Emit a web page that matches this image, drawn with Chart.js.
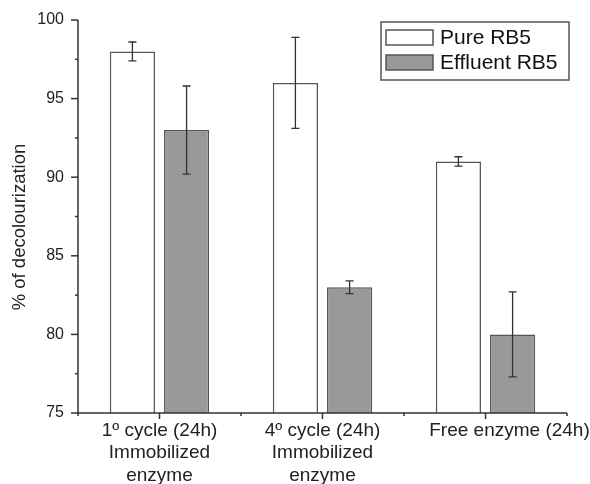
<!DOCTYPE html>
<html>
<head>
<meta charset="utf-8">
<script src="https://cdn.jsdelivr.net/npm/chart.js@4/dist/chart.umd.min.js"></script>
<style>
  html, body { margin: 0; padding: 0; background: #fff; }
  #wrap { width: 590px; height: 484px; }
</style>
</head>
<body>
<div id="wrap"><canvas id="grafico" width="590" height="484"></canvas></div>
<script>
// Datos
const categorias = [
    ["1º cycle (24h)", "Immobilized", "enzyme"],
    ["4º cycle (24h)", "Immobilized", "enzyme"],
    ["Free enzyme (24h)"]
];
const purePos = [1, 2, 3];
const pureRB5 = [98, 96, 91];
const pureErr = [0.6, 2.9, 0.3];
const effluentRB5 = [93, 83, 80];
const effluentErr = [2.8, 0.4, 2.7];
const yTicks = [75, 80, 85, 90, 95, 100];

const fuente = "'Liberation Sans', Arial, sans-serif";

// Ejes dibujados a mano (ticks mayores y menores)
const ejesPlugin = {
    id: 'ejes',
    afterDraw(chart) {
        const ctx = chart.ctx;
        const x = chart.scales.x, y = chart.scales.y;
        const area = chart.chartArea;
        ctx.save();
        ctx.strokeStyle = '#333';
        ctx.lineWidth = 1.5;
        ctx.beginPath();
        ctx.moveTo(area.left, area.top);
        ctx.lineTo(area.left, area.bottom);
        ctx.lineTo(area.right, area.bottom);
        ctx.stroke();

        // ticks del eje y
        ctx.fillStyle = '#222';
        ctx.font = '16px ' + fuente;
        ctx.textAlign = 'right';
        ctx.textBaseline = 'middle';
        for (let v = y.min; v <= y.max + 0.01; v += 2.5) {
            const py = y.getPixelForValue(v);
            const mayor = yTicks.includes(v);
            ctx.beginPath();
            ctx.moveTo(area.left - (mayor ? 7 : 3), py);
            ctx.lineTo(area.left, py);
            ctx.stroke();
            if (mayor) ctx.fillText(String(v), area.left - 14, py);
        }

        // ticks del eje x
        ctx.font = '19px ' + fuente;
        ctx.textAlign = 'center';
        ctx.textBaseline = 'top';
        for (let v = x.min; v <= x.max + 0.01; v += 0.5) {
            const px = x.getPixelForValue(v);
            const mayor = Number.isInteger(v);
            ctx.beginPath();
            ctx.moveTo(px, area.bottom);
            ctx.lineTo(px, area.bottom + (mayor ? 6 : 3));
            ctx.stroke();
            if (mayor && categorias[v - 1]) {
                // la etiqueta de una sola línea va algo desplazada a la derecha
                const dx = categorias[v - 1].length === 1 ? 24 : 0;
                categorias[v - 1].forEach((linea, i) => {
                    ctx.fillText(linea, px + dx, area.bottom + 8 + i * 22.5);
                });
            }
        }

        // título del eje y
        ctx.save();
        ctx.translate(20, 227);
        ctx.rotate(-Math.PI / 2);
        ctx.textBaseline = 'middle';
        ctx.font = '18.5px ' + fuente;
        ctx.fillText('% of decolourization', 0, 0);
        ctx.restore();

        // leyenda
        ctx.fillStyle = '#fff';
        ctx.fillRect(381, 22, 188, 58);
        ctx.strokeStyle = '#555';
        ctx.lineWidth = 1.5;
        ctx.strokeRect(381, 22, 188, 58);
        const items = [['Pure RB5', '#ffffff'], ['Effluent RB5', '#999999']];
        items.forEach((it, i) => {
            const ty = 30 + i * 25;
            ctx.fillStyle = it[1];
            ctx.fillRect(386, ty, 47, 15);
            ctx.strokeRect(386, ty, 47, 15);
            ctx.fillStyle = '#111';
            ctx.font = '21px ' + fuente;
            ctx.textAlign = 'left';
            ctx.textBaseline = 'middle';
            ctx.fillText(it[0], 440, ty + 8);
        });
        ctx.restore();
    }
};

// Barras de error
const erroresPlugin = {
    id: 'errores',
    afterDatasetsDraw(chart) {
        const ctx = chart.ctx;
        const y = chart.scales.y;
        const errores = [pureErr, effluentErr];
        ctx.save();
        ctx.strokeStyle = '#333';
        ctx.lineWidth = 1.3;
        chart.data.datasets.forEach((ds, d) => {
            const meta = chart.getDatasetMeta(d);
            meta.data.forEach((bar, i) => {
                const val = ds.data[i].y;
                const e = errores[d][i];
                const top = y.getPixelForValue(val + e);
                const bot = y.getPixelForValue(val - e);
                ctx.beginPath();
                ctx.moveTo(bar.x, top);
                ctx.lineTo(bar.x, bot);
                ctx.moveTo(bar.x - 4, top);
                ctx.lineTo(bar.x + 4, top);
                ctx.moveTo(bar.x - 4, bot);
                ctx.lineTo(bar.x + 4, bot);
                ctx.stroke();
            });
        });
        ctx.restore();
    }
};

const ctx = document.getElementById('grafico').getContext('2d');
new Chart(ctx, {
    type: 'bar',
    data: {
        datasets: [
            {
                label: 'Pure RB5',
                data: purePos.map((p, i) => ({ x: p, y: pureRB5[i] })),
                backgroundColor: '#ffffff',
                borderColor: '#555555',
                borderWidth: 1.5
            },
            {
                label: 'Effluent RB5',
                data: purePos.map((p, i) => ({ x: p, y: effluentRB5[i] })),
                backgroundColor: '#999999',
                borderColor: '#555555',
                borderWidth: 1.5
            }
        ]
    },
    options: {
        responsive: false,
        animation: false,
        categoryPercentage: 0.665,
        barPercentage: 0.833,
        layout: { padding: { left: 0, top: 20, right: 23, bottom: 0 } },
        plugins: {
            legend: { display: false },
            tooltip: { enabled: false }
        },
        scales: {
            x: {
                type: 'linear',
                min: 0.5,
                max: 3.5,
                offset: false,
                grid: { display: false },
                border: { display: false },
                ticks: { display: false },
                afterBuildTicks(scale) {
                    scale.ticks = purePos.map(v => ({ value: v }));
                },
                afterFit(scale) { scale.height = 71; }
            },
            y: {
                min: 75,
                max: 100,
                grid: { display: false },
                border: { display: false },
                ticks: { display: false },
                afterFit(scale) { scale.width = 78; }
            }
        }
    },
    plugins: [erroresPlugin, ejesPlugin]
});
</script>
</body>
</html>
